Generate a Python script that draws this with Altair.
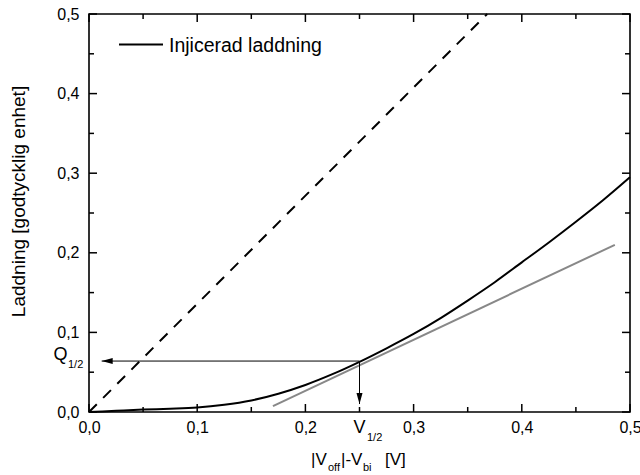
import altair as alt
import pandas as pd

# ---- data ----
curve_x = [0, 0.025, 0.05, 0.075, 0.1, 0.125, 0.15, 0.175, 0.2, 0.225, 0.25,
           0.275, 0.3, 0.325, 0.35, 0.375, 0.4, 0.425, 0.45, 0.475, 0.5]
curve_y = [0, 0.0015, 0.003, 0.004, 0.0055, 0.009, 0.0145, 0.023, 0.034, 0.0475, 0.063,
           0.080, 0.098, 0.118, 0.140, 0.163, 0.188, 0.213, 0.239, 0.266, 0.295]
dashed_x = [0, 0.368]
dashed_y = [0, 0.5]
tangent_x = [0.17, 0.486]
tangent_y = [0.0075, 0.21]
half_x = 0.25
half_y = 0.064
harrow_tip_x = 0.0117
varrow_tip_y = 0.010
major_ticks = [0.0, 0.1, 0.2, 0.3, 0.4, 0.5]
minor_ticks = [0.05, 0.15, 0.25, 0.35, 0.45]
legend_label = "Injicerad laddning"
y_title = "Laddning [godtycklig enhet]"

W, H = 541, 398
FONT = "Liberation Sans"

xs = alt.Scale(domain=[0, 0.5], nice=False, zero=False)
ys = alt.Scale(domain=[0, 0.5], nice=False, zero=False)
lab = "replace(format(datum.value, '.1f'), '.', ',')"

x_axis = alt.Axis(values=major_ticks, ticks=False, domain=False, grid=False,
                  labelExpr=lab, labelFont=FONT, labelFontSize=16, labelColor="black",
                  labelPadding=7, labelFlush=False, labelOverlap=False, title=None)
y_axis = alt.Axis(values=major_ticks, ticks=False, domain=False, grid=False,
                  labelExpr=lab, labelFont=FONT, labelFontSize=16, labelColor="black",
                  labelPadding=10, labelFlush=False, labelOverlap=False, title=None)


def X(f):
    return alt.X(f, scale=xs, axis=x_axis)


def Y(f):
    return alt.Y(f, scale=ys, axis=y_axis)


curve = alt.Chart(pd.DataFrame({"x": curve_x, "y": curve_y})).mark_line(
    color="black", strokeWidth=2, interpolate="monotone").encode(x=X("x:Q"), y=Y("y:Q"))

dashed = alt.Chart(pd.DataFrame({"x": dashed_x, "y": dashed_y})).mark_line(
    color="black", strokeWidth=2, strokeDash=[11, 9]).encode(x=X("x:Q"), y=Y("y:Q"))

tangent = alt.Chart(pd.DataFrame({"x": tangent_x, "y": tangent_y})).mark_line(
    color="#888888", strokeWidth=2).encode(x=X("x:Q"), y=Y("y:Q"))

arrows_df = pd.DataFrame({"x": [half_x, half_x], "x2": [harrow_tip_x, half_x],
                          "y": [half_y, half_y], "y2": [half_y, varrow_tip_y]})
arrow_lines = alt.Chart(arrows_df).mark_rule(color="black", strokeWidth=1).encode(
    x=X("x:Q"), x2="x2:Q", y=Y("y:Q"), y2="y2:Q")

head_left = alt.Chart(pd.DataFrame({"x": [harrow_tip_x], "y": [half_y]})).mark_point(
    shape="M0,0L2,-0.55L2,0.55Z", size=121, filled=True, color="black", opacity=1,
    strokeWidth=0).encode(x=X("x:Q"), y=Y("y:Q"))
head_down = alt.Chart(pd.DataFrame({"x": [half_x], "y": [varrow_tip_y]})).mark_point(
    shape="M0,0L-0.55,-2L0.55,-2Z", size=121, filled=True, color="black", opacity=1,
    strokeWidth=0).encode(x=X("x:Q"), y=Y("y:Q"))


# inward ticks on all four sides
def tick_layers(vals, length):
    df = pd.DataFrame({"v": vals})
    base = alt.Chart(df).mark_rule(color="black", strokeWidth=1.5)
    return [
        base.encode(x=X("v:Q"), y=alt.value(H), y2=alt.value(H - length)),
        base.encode(x=X("v:Q"), y=alt.value(0), y2=alt.value(length)),
        base.encode(y=Y("v:Q"), x=alt.value(0), x2=alt.value(length)),
        base.encode(y=Y("v:Q"), x=alt.value(W), x2=alt.value(W - length)),
    ]


ticks = tick_layers(major_ticks, 8) + tick_layers(minor_ticks, 5)

one = pd.DataFrame({"a": [0]})


def txt(t, x, y, size, align="left", angle=0):
    m = dict(text=t, font=FONT, fontSize=size, color="black", align=align, baseline="middle")
    if angle:
        m["angle"] = angle
    return alt.Chart(one).mark_text(**m).encode(x=alt.value(x), y=alt.value(y))


legend_line = alt.Chart(one).mark_rule(color="black", strokeWidth=2).encode(
    x=alt.value(30), x2=alt.value(74), y=alt.value(30.5))

texts = [
    legend_line,
    txt(legend_label, 80, 31.5, 19.5),
    txt("Q", -28.5, 341, 18, "center"),
    txt("1/2", -21, 351, 11),
    txt("V", 270.5, 414, 18, "center"),
    txt("1/2", 278, 424, 11),
    txt("|V", 222, 446, 17),
    txt("off", 239, 454, 11),
    txt("|-V", 252, 446, 17),
    txt("bi", 274, 454, 11),
    txt("[V]", 296, 446, 17),
    txt(y_title, -70, 187.5, 19, "center", 270),
]

chart = alt.layer(curve, dashed, tangent, arrow_lines, head_left, head_down,
                  *ticks, *texts).properties(
    width=W, height=H,
    padding={"left": 89, "top": 14, "right": 10, "bottom": 63},
    autosize=alt.AutoSizeParams(type="none"),
    background="white",
).configure_view(stroke="black", strokeWidth=1.6)

chart.save("out.html", embed_options={"renderer": "svg", "actions": False})
